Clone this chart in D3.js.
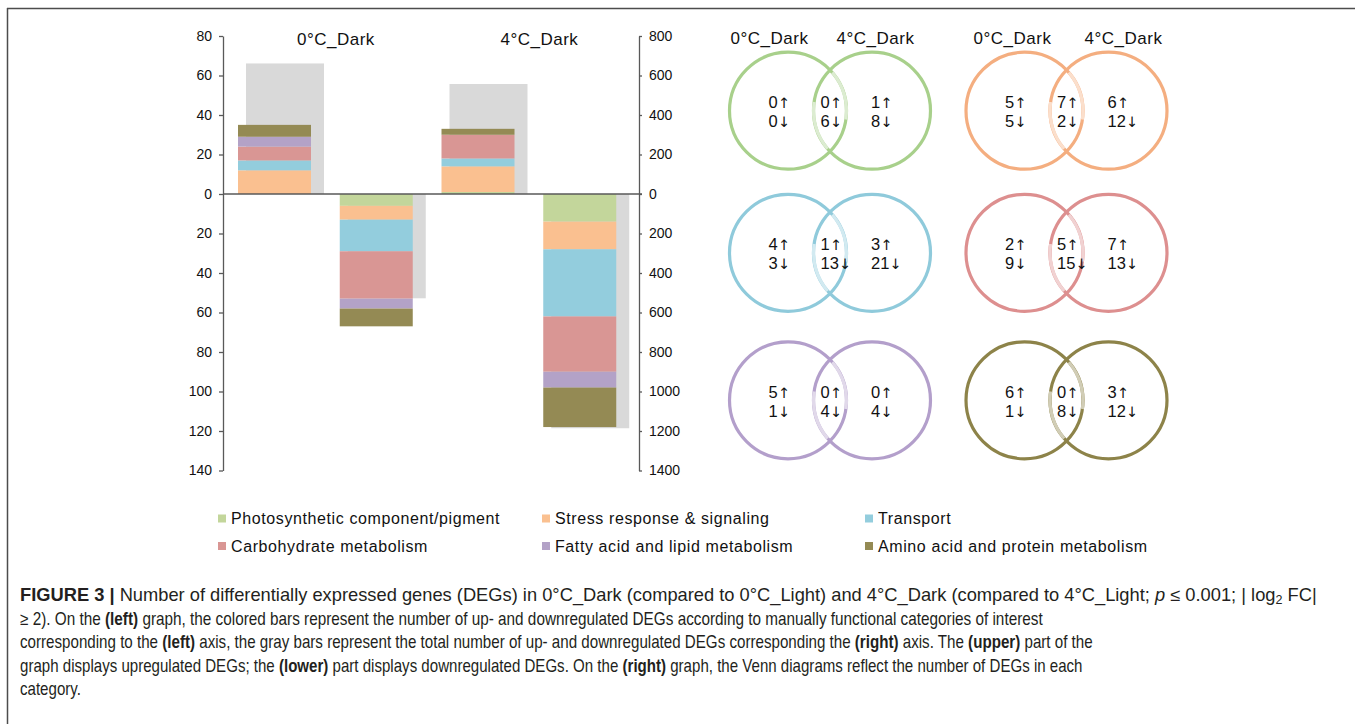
<!DOCTYPE html>
<html>
<head>
<meta charset="utf-8">
<script src="https://cdn.jsdelivr.net/npm/d3@7"></script>
<style>
  body { margin: 0; background: #fff; }
  svg { display: block; font-family: "Liberation Sans", Arial, sans-serif; }
  .axis path, .axis line { stroke: #595959; stroke-width: 1.3; }
  .axis text { font-size: 14px; fill: #111; font-family: "Liberation Sans", Arial, sans-serif; }
</style>
</head>
<body>
<div id="chart"></div>
<script>
// categories and colours
var categories = ["Photosynthetic component/pigment", "Stress response & signaling", "Transport",
    "Carbohydrate metabolism", "Fatty acid and lipid metabolism", "Amino acid and protein metabolism"];
var barColors = ["#c3d69b", "#fac090", "#93cddd", "#d99694", "#b3a2c7", "#948a54"];
var vennColors = ["#a8d08b", "#f4ae80", "#8fcadb", "#dd8f8f", "#b39fcb", "#8d8349"];

var conditions = ["0°C_Dark", "4°C_Dark"];

// colored bars (left axis), one value per category
var up0 = [0, 12, 5, 7, 5, 6];
var down0 = [6, 7, 16, 24, 5, 9];
var up4 = [1, 13, 4, 12, 0, 3];
var down4 = [14, 14, 34, 28, 8, 20];

// gray bars (right axis): 0C up, 0C down, 4C up, 4C down
var totals = [661, 528, 557, 1186];

// venn counts per category
var only0Up = [0, 5, 4, 2, 5, 6];
var bothUp = [0, 7, 1, 5, 0, 0];
var only4Up = [1, 6, 3, 7, 0, 3];
var only0Down = [0, 5, 3, 9, 1, 1];
var bothDown = [6, 2, 13, 15, 4, 8];
var only4Down = [8, 12, 21, 13, 4, 12];

var leftTicks = d3.range(-140, 81, 20);
var rightTicks = d3.range(-1400, 801, 200);

var svgWidth = 1355, svgHeight = 724;

var svg = d3.select("#chart").append("svg")
    .attr("width", svgWidth)
    .attr("height", svgHeight);

// frame
svg.append("line").attr("x1", 7.5).attr("x2", 7.5).attr("y1", 8).attr("y2", svgHeight)
    .attr("stroke", "#4d4d4d").attr("stroke-width", 1.5);
svg.append("line").attr("x1", 7).attr("x2", svgWidth).attr("y1", 8.5).attr("y2", 8.5)
    .attr("stroke", "#4d4d4d").attr("stroke-width", 1.5);

// ---------- bar chart ----------
var xLeft = 223, xRight = 639;
var yLeft = d3.scaleLinear().domain([-140, 80]).range([470.5, 36]);
var yRight = d3.scaleLinear().domain([-1400, 800]).range([470.5, 36]);
var xBand = d3.scaleBand().domain([0, 1, 2, 3]).range([227, 634]);

// gray totals
var signs = [1, -1, 1, -1];
svg.append("g").selectAll("rect")
    .data(totals)
    .enter()
    .append("rect")
    .attr("x", (d, i) => xBand(i) + 19)
    .attr("width", 78)
    .attr("y", (d, i) => Math.min(yRight(0), yRight(signs[i] * d)))
    .attr("height", (d, i) => Math.abs(yRight(signs[i] * d) - yRight(0)))
    .attr("fill", "#d9d9d9");

// stacked colored bars
var barSets = [up0, down0.map(v => -v), up4, down4.map(v => -v)];
var table = barSets.map(function(vals, i) {
    var row = { bar: i };
    categories.forEach((c, j) => row[c] = vals[j]);
    return row;
});
var stacked = d3.stack().keys(categories).offset(d3.stackOffsetDiverging)(table);

svg.append("g").selectAll("g")
    .data(stacked)
    .enter()
    .append("g")
    .attr("fill", (d, i) => barColors[i])
    .selectAll("rect")
    .data(d => d)
    .enter()
    .append("rect")
    .attr("x", d => xBand(d.data.bar) + 11)
    .attr("width", 73)
    .attr("y", d => yLeft(d[1]))
    .attr("height", d => Math.max(0, yLeft(d[0]) - yLeft(d[1])));

// axes
var leftAxis = d3.axisLeft(yLeft).tickValues(leftTicks).tickFormat(d => Math.abs(d))
    .tickSize(4).tickSizeOuter(0).tickPadding(7);
var rightAxis = d3.axisRight(yRight).tickValues(rightTicks).tickFormat(d => Math.abs(d))
    .tickSize(3).tickSizeOuter(0).tickPadding(7);

svg.append("g").attr("class", "axis").attr("transform", `translate(${xLeft},0)`).call(leftAxis);
svg.append("g").attr("class", "axis").attr("transform", `translate(${xRight},0)`).call(rightAxis);

svg.append("line")
    .attr("x1", xLeft).attr("x2", xRight + 3)
    .attr("y1", yLeft(0)).attr("y2", yLeft(0))
    .attr("stroke", "#595959").attr("stroke-width", 1.3);

// condition titles above the bars
svg.append("g").selectAll("text")
    .data(conditions)
    .enter()
    .append("text")
    .attr("x", (d, i) => (xBand(i * 2) + xBand(i * 2 + 1)) / 2 + 58)
    .attr("y", 45)
    .attr("text-anchor", "middle")
    .attr("font-size", "17px")
    .attr("letter-spacing", "0.5px")
    .attr("fill", "#111")
    .text(d => d);

// ---------- venn diagrams ----------
var r = 58.5, gap = 84;
var colX = [788, 1024.5];
var rowY = [110.7, 252.8, 400.3];
var headerOffsets = [[-18.5, gap + 3.5], [-12, gap + 15]];

colX.forEach(function(cx, c) {
    conditions.forEach(function(name, k) {
        svg.append("text")
            .attr("x", cx + headerOffsets[c][k])
            .attr("y", 44)
            .attr("text-anchor", "middle")
            .attr("font-size", "17px")
            .attr("letter-spacing", "0.5px")
            .attr("fill", "#111")
            .text(name);
    });
});

var h = Math.sqrt(r * r - (gap / 2) * (gap / 2));
var aTop = Math.atan2(gap / 2, h);  // angle of top crossing seen from left centre
var ring = d3.arc().innerRadius(r - 1.6).outerRadius(r + 1.6);

function countLabel(g, x, y, n, arrow) {
    var t = g.append("text").attr("x", x).attr("y", y)
        .attr("font-size", "16.5px").attr("fill", "#111");
    t.append("tspan").text(n);
    t.append("tspan").attr("font-family", "'DejaVu Sans', sans-serif")
        .attr("font-size", "14.5px").attr("fill", "#111").text(arrow);
}

categories.forEach(function(cat, i) {
    var cx1 = colX[i % 2], cx2 = cx1 + gap, cy = rowY[Math.floor(i / 2)];
    var col = vennColors[i];
    var light = d3.interpolateRgb(col, "#ffffff")(0.6);
    var g = svg.append("g");

    g.selectAll("circle")
        .data([cx1, cx2])
        .enter()
        .append("circle")
        .attr("cx", d => d)
        .attr("cy", cy)
        .attr("r", r)
        .attr("fill", "none")
        .attr("stroke", col)
        .attr("stroke-width", 3.2);

    // interlocking look: part of each ring inside the lens is faded
    g.append("path")
        .attr("transform", `translate(${cx1},${cy})`)
        .attr("d", ring({ startAngle: aTop + 0.06, endAngle: Math.PI / 2 + 0.15 }))
        .attr("fill", light);
    g.append("path")
        .attr("transform", `translate(${cx2},${cy})`)
        .attr("d", ring({ startAngle: Math.PI + aTop + 0.06, endAngle: 1.5 * Math.PI + 0.15 }))
        .attr("fill", light);

    var labels = [
        { x: cx1 - 19.5, up: only0Up[i], down: only0Down[i] },
        { x: (cx1 + cx2) / 2 - 9.5, up: bothUp[i], down: bothDown[i] },
        { x: cx2 - 1, up: only4Up[i], down: only4Down[i] }
    ];
    labels.forEach(function(l) {
        countLabel(g, l.x, cy - 2.5, l.up, "↑");
        countLabel(g, l.x, cy + 16.5, l.down, "↓");
    });
});

// ---------- legend ----------
var legendCols = [218, 542, 865];
var legendRows = [518.5, 546];
var legend = svg.append("g").selectAll("g")
    .data(categories)
    .enter()
    .append("g")
    .attr("transform", (d, i) => `translate(${legendCols[i % 3]},${legendRows[Math.floor(i / 3)]})`);

legend.append("rect")
    .attr("x", 0).attr("y", -4)
    .attr("width", 8).attr("height", 8)
    .attr("fill", (d, i) => barColors[i]);

legend.append("text")
    .attr("x", 13).attr("y", 5.5)
    .attr("font-size", "16px")
    .attr("letter-spacing", "0.6px")
    .attr("fill", "#111")
    .text(d => d);

// ---------- caption ----------
var captionLines = [
    [["b", "FIGURE 3 | "], ["", "Number of differentially expressed genes (DEGs) in 0°C_Dark (compared to 0°C_Light) and 4°C_Dark (compared to 4°C_Light; "],
     ["i", "p"], ["", " ≤ 0.001; | log"], ["sub", "2"], ["", " FC|"]],
    [["", "≥ 2). On the "], ["b", "(left)"], ["", " graph, the colored bars represent the number of up- and downregulated DEGs according to manually functional categories of interest"]],
    [["", "corresponding to the "], ["b", "(left)"], ["", " axis, the gray bars represent the total number of up- and downregulated DEGs corresponding the "],
     ["b", "(right)"], ["", " axis. The "], ["b", "(upper)"], ["", " part of the"]],
    [["", "graph displays upregulated DEGs; the "], ["b", "(lower)"], ["", " part displays downregulated DEGs. On the "], ["b", "(right)"],
     ["", " graph, the Venn diagrams reflect the number of DEGs in each"]],
    [["", "category."]]
];
var captionWidths = [1298, 1023, 1073, 1063, null];
var captionY = [601, 624.5, 648, 671.5, 695];
var lastScale = 1;

captionLines.forEach(function(parts, li) {
    var t = svg.append("text")
        .attr("font-family", "'Liberation Sans Narrow', 'Liberation Sans', Arial, sans-serif")
        .attr("font-size", "17.5px")
        .attr("fill", "#231f20");
    parts.forEach(function(p) {
        var s = t.append("tspan").text(p[1]);
        if (p[0] === "b") s.attr("font-weight", "bold");
        if (p[0] === "i") s.attr("font-style", "italic");
        if (p[0] === "sub") s.attr("font-size", "12px").attr("baseline-shift", "-3");
    });
    var w = t.node().getComputedTextLength();
    var k = captionWidths[li] ? captionWidths[li] / w : lastScale;
    lastScale = k;
    t.attr("transform", `translate(20,${captionY[li]}) scale(${k},1)`);
});
</script>
</body>
</html>
